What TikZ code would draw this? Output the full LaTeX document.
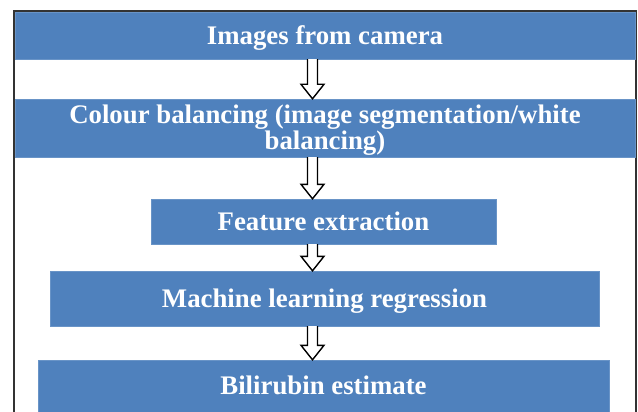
\documentclass[tikz,border=0pt]{standalone}
\usepackage{fontspec}
\setmainfont{Liberation Serif}
\usetikzlibrary{calc}
\definecolor{stageblue}{HTML}{4F81BD}

\begin{document}
\begin{tikzpicture}[x=1pt,y=-1pt]
  \tikzstyle{every node}=[font=\fontsize{26.8}{26}\selectfont\bfseries, text=white, align=center]
  \tikzstyle{stage}=[fill=stageblue, draw=stageblue!85!white, inner sep=0pt]
  \tikzstyle{oneline}=[text height=17.7pt, text depth=0pt]
  \tikzstyle{hollow}=[draw=black, fill=white, line width=1.4pt, to path={
    let \p1=(\tikztostart), \p2=(\tikztotarget) in
    (\x1-5pt,\y1) -- (\x1-5pt,\y2+14.5pt) -- (\x1-11.5pt,\y2+14.5pt) -- (\x1,\y2)
    -- (\x1+11.5pt,\y2+14.5pt) -- (\x1+5pt,\y2+14.5pt) -- (\x1+5pt,\y1)}]
  \useasboundingbox (0,0) rectangle (638,412);
  \clip (0,0) rectangle (638,412);
  \draw[black!80, line width=1.2pt] (14,11) rectangle (636,440);
  \node[stage, oneline, minimum width=620pt, minimum height=47pt] (cam) at (325,35.5) {Images from camera};
  \node[stage, minimum width=620pt, minimum height=58pt] (bal) at (325,128) {\rule{0pt}{22.5pt}Colour balancing (image segmentation/white\\balancing)};
  \node[stage, oneline, minimum width=345pt, minimum height=45pt] (feat) at (323.5,221.5) {Feature extraction};
  \node[stage, oneline, minimum width=549pt, minimum height=55pt] (reg) at (324.5,298.5) {Machine learning regression};
  \node[stage, oneline, minimum width=571pt, minimum height=52pt] (est) at (323.5,386) {Bilirubin estimate};
  \coordinate (ax) at (312.5,0);
  \path
    (cam.south -| ax) edge[hollow] (bal.north -| ax)
    (bal.south -| ax) edge[hollow] (feat.north -| ax)
    (feat.south -| ax) edge[hollow] (reg.north -| ax)
    (reg.south -| ax) edge[hollow] (est.north -| ax);
\end{tikzpicture}
\end{document}
